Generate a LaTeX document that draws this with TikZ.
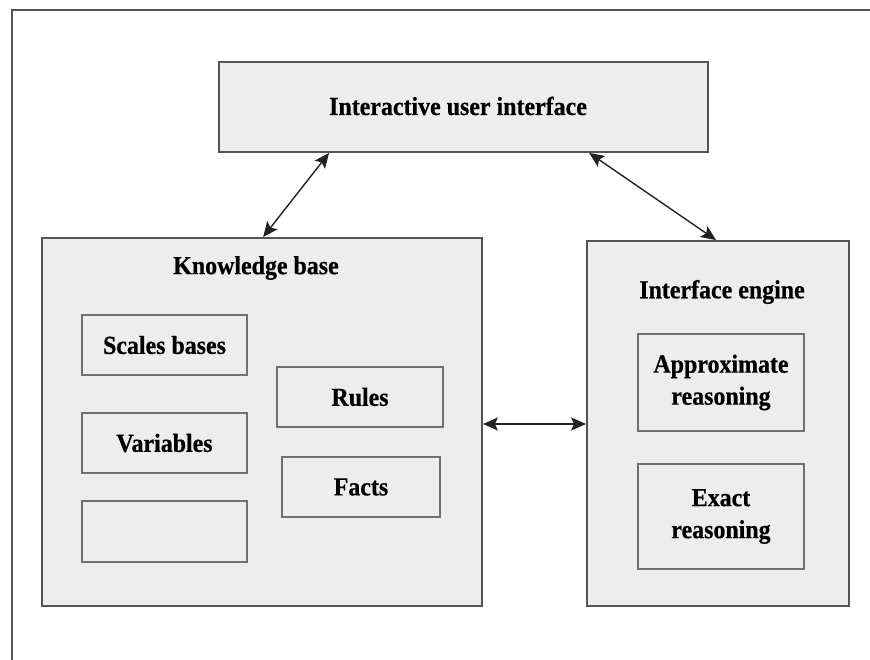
\documentclass[tikz,border=0pt]{standalone}
\usepackage{fontspec}
\setmainfont[FakeStretch=0.92,BoldFeatures={FakeBold=0.6}]{Liberation Serif}
\usetikzlibrary{arrows.meta,calc}
\definecolor{boxfill}{HTML}{EDEDED}
\definecolor{outerline}{HTML}{555555}
\definecolor{innerline}{HTML}{707070}
\definecolor{arrowline}{HTML}{222222}
\tikzset{
  bigbox/.style={draw=outerline,line width=1.8pt,fill=boxfill,rectangle,inner sep=0pt},
  smallbox/.style={draw=innerline,line width=1.8pt,fill=boxfill,rectangle,inner sep=0pt,
     font=\fontsize{26}{32}\selectfont\bfseries,align=center},
  titletext/.style={font=\fontsize{26}{32}\selectfont\bfseries,inner sep=0pt},
  biarrow/.style={draw=arrowline,line width=1.4pt,
     {Stealth[length=15pt,width=13pt,inset=3pt]}-{Stealth[length=15pt,width=13pt,inset=3pt]}}
}
\begin{document}
\begin{tikzpicture}[x=1pt,y=-1pt]
\useasboundingbox (0,0) rectangle (870,660);
% outer frame (top and left only)
\draw[draw=outerline,line width=1.8pt] (870,10) -- (12,10) -- (12,660);

% top box
\node[bigbox,minimum width=489pt,minimum height=90pt] (ui) at (463.5,107) {};
\node[titletext] (uit) at (458,106) {Interactive user interface};

% knowledge base
\node[bigbox,minimum width=440pt,minimum height=368pt] (kb) at (262,422) {};
\node[titletext] (kbt) at (256,268) {Knowledge base};
\node[smallbox,minimum width=165pt,minimum height=60pt] (scales) at (164.5,345) {Scales bases};
\node[smallbox,minimum width=165pt,minimum height=60pt] (vars) at (164.5,443) {Variables};
\node[smallbox,minimum width=165pt,minimum height=61pt] (empty) at (164.5,531.5) {};
\node[smallbox,minimum width=166pt,minimum height=60pt] (rules) at (360,397) {Rules};
\node[smallbox,minimum width=158pt,minimum height=60pt] (facts) at (361,487) {Facts};

% interface engine
\node[bigbox,minimum width=262pt,minimum height=365pt] (ie) at (718,423.5) {};
\node[titletext] (iet) at (722,292) {Interface engine};
\node[smallbox,minimum width=166pt,minimum height=97pt] (approx) at (721,382.5) {Approximate\\reasoning};
\node[smallbox,minimum width=166pt,minimum height=105pt] (exact) at (721,516.5) {Exact\\reasoning};

% connectors
\draw[biarrow] ($(ui.south west)+(111,0)$) -- ($(kb.north west)+(222,0)$);
\draw[biarrow] ($(ui.south west)+(371,0)$) -- ($(ie.north west)+(130,0)$);
\draw[biarrow] (kb.east |- 0,424) -- (ie.west |- 0,424);
\end{tikzpicture}
\end{document}
